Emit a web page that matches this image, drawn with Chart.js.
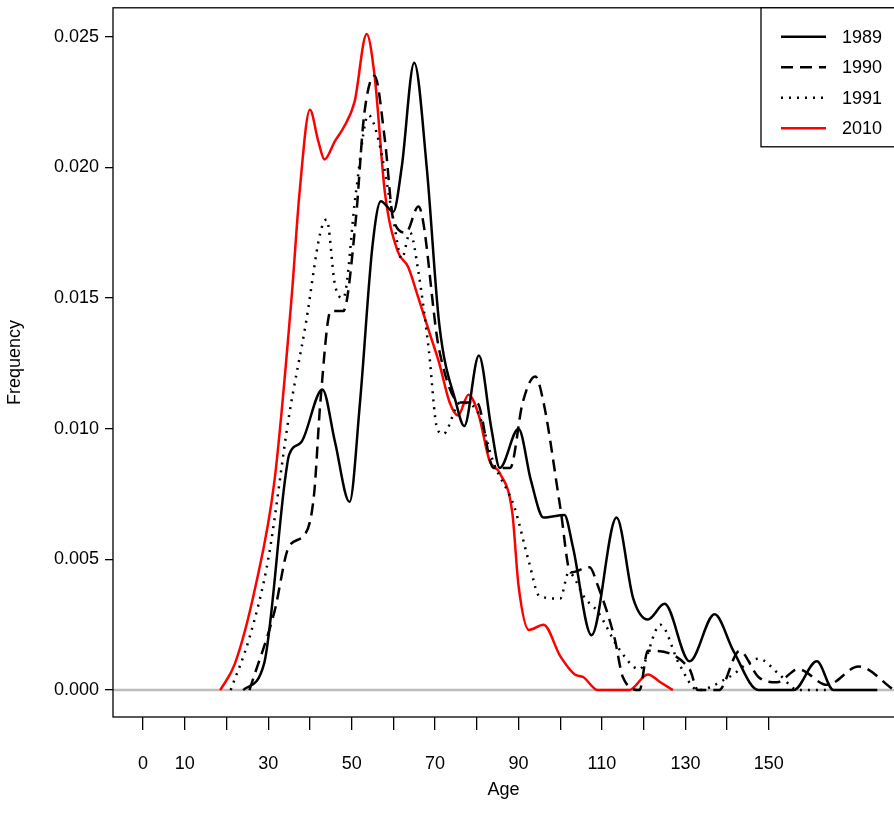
<!DOCTYPE html>
<html>
<head>
<meta charset="utf-8">
<script src="https://cdn.jsdelivr.net/npm/chart.js@4"></script>
<style>
  html, body { margin: 0; padding: 0; background: #fff; overflow: hidden; }
  #wrap { width: 894px; height: 832px; overflow: hidden; }
  canvas { display: block; margin-top: -9px; }
</style>
</head>
<body>
<div id="wrap"><canvas id="myChart" width="894" height="841"></canvas></div>
<script>
// age / density pairs
const age1989 = [24,29,34,35,38,43,46,49.5,52,55,57,60,62,65,68,71,75,77,80.5,83.5,85.5,90,93,96,101,103,107.5,113.5,117.5,121,125,131,137,141.5,147.5,156,161.5,165.5,176];
const freq1989 = [0,0.001,0.008,0.009,0.0095,0.0115,0.0095,0.0072,0.011,0.017,0.0187,0.0183,0.02,0.024,0.02,0.014,0.011,0.0101,0.0128,0.01,0.0085,0.01,0.008,0.0066,0.0067,0.0055,0.0021,0.0066,0.0035,0.0027,0.0033,0.0011,0.0029,0.0015,0,0,0.0011,0,0];

const age1990 = [25.5,31.5,35,39,41,42.5,45,48,51,53,55.5,58,60,63,66,71,76,80,84,88,91,94,96,100,102.5,107,109,113,115,119,121,131,133,138,143,147.5,152,157,164,171.5,180];
const freq1990 = [0,0.003,0.0055,0.006,0.0075,0.011,0.0145,0.0145,0.018,0.022,0.0235,0.021,0.018,0.0175,0.0185,0.013,0.011,0.011,0.0085,0.0085,0.011,0.012,0.011,0.007,0.0045,0.0047,0.004,0.002,0.0005,0,0.0015,0.0008,0,0,0.0015,0.0005,0.0003,0.0008,0.0002,0.0009,0];

const age1991 = [21,25.5,30,35,39,42.5,44,46,48,51,54,56.5,60,62,64,66,68.5,70.5,72,76,80,84,89,92.5,95,100,102,106,109,114,119,124,128.5,133,140.5,147.5,152.5,157,164];
const freq1991 = [0,0.002,0.005,0.0105,0.014,0.0175,0.018,0.0155,0.015,0.019,0.022,0.021,0.018,0.0165,0.0175,0.016,0.013,0.01,0.0098,0.011,0.0107,0.0087,0.007,0.0049,0.0036,0.0035,0.0045,0.0035,0.003,0.0016,0.0008,0.0025,0.001,0,0.0005,0.0012,0.0006,0,0];

const age2010 = [18.5,22,27,31.5,35.6,37.5,40,42,43.5,46,48,50.7,53.6,55.5,58,61,63.5,66,69,71,73.5,75.5,78,80.5,83,85.5,88.5,90,92.5,96,100,103.5,105.5,109,116.5,121,124,127];
const freq2010 = [0,0.001,0.004,0.008,0.015,0.019,0.0222,0.021,0.0203,0.021,0.0215,0.0225,0.0251,0.0235,0.019,0.0168,0.0162,0.015,0.0135,0.0125,0.011,0.0105,0.0113,0.0105,0.0088,0.0083,0.0068,0.004,0.0023,0.0025,0.0013,0.0006,0.0005,0,0,0.0006,0.0003,0];

const seriesNames = ['1989', '1990', '1991', '2010'];
const xLabels = [0, 10, 30, 50, 70, 90, 110, 130, 150];

const FONT = 'Arial, "Liberation Sans", sans-serif';
const pts = (xs, ys) => xs.map((x, i) => ({ x: x, y: ys[i] }));
const styles = [
  { color: '#000', dash: [] },
  { color: '#000', dash: [12, 7] },
  { color: '#000', dash: [2, 6] },
  { color: '#ff0000', dash: [] }
];
const allData = [pts(age1989, freq1989), pts(age1990, freq1990), pts(age1991, freq1991), pts(age2010, freq2010)];

const boxPlugin = {
  id: 'box',
  beforeDatasetsDraw(chart) {
    const { ctx, chartArea: a, scales } = chart;
    const y0 = scales.y.getPixelForValue(0);
    ctx.save();
    ctx.strokeStyle = '#bdbdbd';
    ctx.lineWidth = 2.5;
    ctx.beginPath();
    ctx.moveTo(a.left, y0);
    ctx.lineTo(a.right, y0);
    ctx.stroke();
    ctx.restore();
  },
  afterDraw(chart) {
    const { ctx, chartArea: a } = chart;
    ctx.save();
    ctx.strokeStyle = '#000';
    ctx.lineWidth = 1.3;
    ctx.strokeRect(a.left, a.top, a.right - a.left + 2, a.bottom - a.top);
    // legend, hanging from the top-right corner of the box
    const lt = a.top;
    ctx.fillStyle = '#fff';
    ctx.fillRect(761, lt, 140, 139);
    ctx.strokeRect(761, lt, 140, 139);
    ctx.font = '18px ' + FONT;
    ctx.textBaseline = 'middle';
    seriesNames.forEach((n, i) => {
      const y = lt + 29 + i * 30.5;
      ctx.strokeStyle = styles[i].color;
      ctx.setLineDash(styles[i].dash);
      ctx.lineWidth = 2.5;
      ctx.beginPath();
      ctx.moveTo(781, y);
      ctx.lineTo(826, y);
      ctx.stroke();
      ctx.setLineDash([]);
      ctx.fillStyle = '#000';
      ctx.fillText(n, 842, y + 1);
    });
    ctx.restore();
  }
};

new Chart(document.getElementById('myChart').getContext('2d'), {
  type: 'line',
  data: {
    datasets: allData.map((d, i) => ({
      label: seriesNames[i],
      data: d,
      borderColor: styles[i].color,
      borderDash: styles[i].dash,
      borderWidth: 2.5,
      pointRadius: 0,
      cubicInterpolationMode: 'monotone',
      fill: false
    }))
  },
  options: {
    responsive: false,
    animation: false,
    layout: { padding: { top: 0, right: 0, left: 0, bottom: 27 } },
    plugins: { legend: { display: false }, tooltip: { enabled: false } },
    scales: {
      x: {
        type: 'linear',
        min: -7.2,
        max: 180,
        afterBuildTicks(s) {
          s.ticks = [];
          for (let v = 0; v <= 150; v += 10) s.ticks.push({ value: v });
        },
        afterFit(s) { s.height = 88; },
        grid: { drawOnChartArea: false, tickLength: 13, color: '#000', lineWidth: 1.3 },
        border: { display: false },
        ticks: {
          autoSkip: false,
          maxRotation: 0,
          padding: 23,
          color: '#000',
          font: { size: 18, family: FONT },
          callback: v => xLabels.includes(v) ? String(v) : ''
        },
        title: {
          display: true, text: 'Age', color: '#000', padding: { top: 0 },
          font: { size: 18, family: FONT }
        }
      },
      y: {
        min: -0.00103,
        max: 0.0261,
        afterBuildTicks(s) {
          s.ticks = [0, 0.005, 0.01, 0.015, 0.02, 0.025].map(v => ({ value: v }));
        },
        afterFit(s) { s.width = 113; },
        grid: { drawOnChartArea: false, tickLength: 8, color: '#000', lineWidth: 1.3 },
        border: { display: false },
        ticks: {
          padding: 6,
          color: '#000',
          font: { size: 18, family: FONT },
          callback: v => v.toFixed(3)
        },
        title: {
          display: true, text: 'Frequency', color: '#000', padding: { bottom: 0 },
          font: { size: 18, family: FONT }
        }
      }
    }
  },
  plugins: [boxPlugin]
});
</script>
</body>
</html>
